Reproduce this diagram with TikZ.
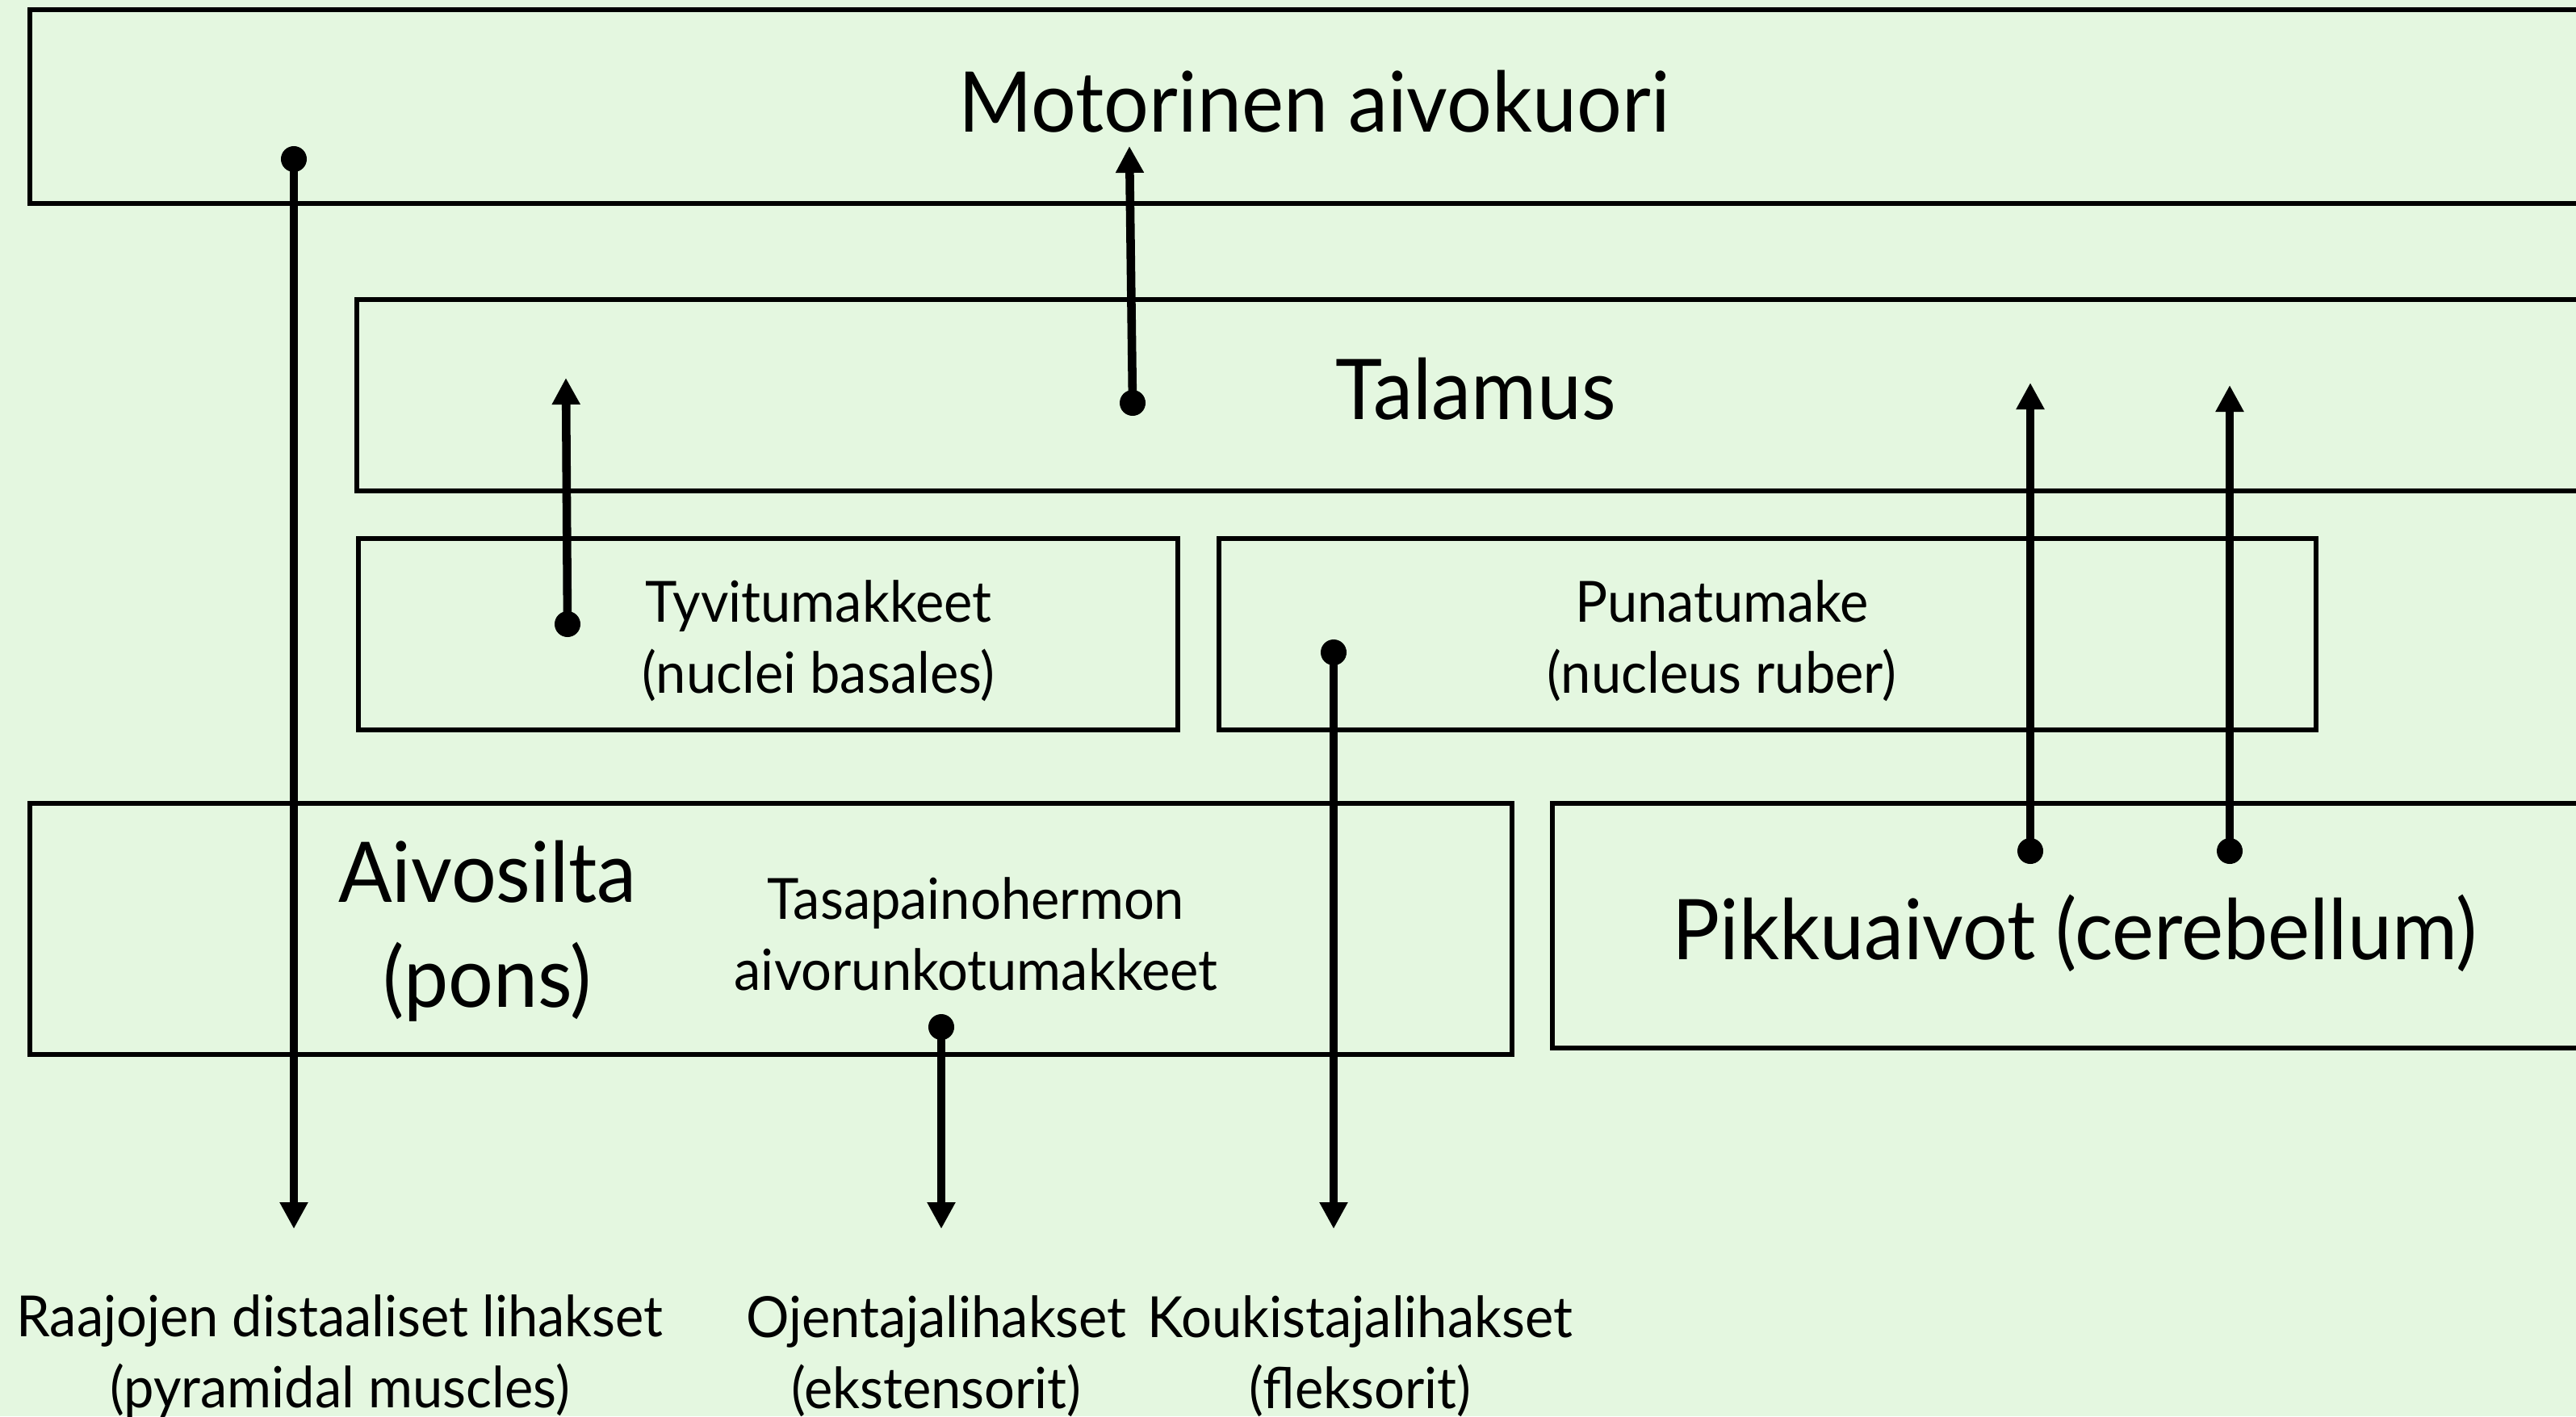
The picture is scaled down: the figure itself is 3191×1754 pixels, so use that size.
\documentclass[tikz,border=0pt]{standalone}
\usepackage{fontspec}
\setmainfont{Lato}[FakeStretch=0.95]
\usetikzlibrary{arrows.meta}
\definecolor{bgmint}{RGB}{228,247,224}
\tikzset{
  region/.style={draw=black, line width=1.45pt, fill=none},
  bigtxt/.style={font=\fontsize{29.5}{37}\selectfont, align=center, inner sep=0pt},
  smalltxt/.style={font=\fontsize{20}{25}\selectfont, align=center, inner sep=0pt},
  dot/.style={circle, fill=black, minimum size=0.32cm, inner sep=0pt},
  conn/.style={line width=3pt, -{Triangle[length=0.33cm, width=0.33cm]}},
}
\begin{document}
\begin{tikzpicture}[x=0.01cm, y=-0.01cm]
  % canvas
  \fill[bgmint] (0,0) rectangle (3191,1754);
  \useasboundingbox (0,0) rectangle (3191,1754);
  \clip (0,0) rectangle (3191,1754);

  % regions
  \draw[region] (37,12) rectangle (3240,252);
  \draw[region] (442,371) rectangle (3240,608);
  \draw[region] (444,667) rectangle (1459,904);
  \draw[region] (1510,667) rectangle (2869,904);
  \draw[region] (37,995) rectangle (1873,1306);
  \draw[region] (1923,995) rectangle (3240,1298);

  % labels
  \node[bigtxt] (motor) at (1628,126) {Motorinen aivokuori};
  \node[bigtxt] (talamus) at (1828,482) {Talamus};
  \node[smalltxt] (tyvi) at (1014,794) {Tyvitumakkeet\\(nuclei basales)};
  \node[smalltxt] (puna) at (2133,794) {Punatumake\\(nucleus ruber)};
  \node[bigtxt] (pons) at (604,1153) {Aivosilta\\(pons)};
  \node[smalltxt] (tasa) at (1209,1157) {Tasapainohermon\\aivorunkotumakkeet};
  \node[bigtxt] (pikku) at (2570,1156) {Pikkuaivot (cerebellum)};
  \node[smalltxt] (raajat) at (421,1680) {Raajojen distaaliset lihakset\\(pyramidal muscles)};
  \node[smalltxt] (ojent) at (1160,1680) {Ojentajalihakset\\(ekstensorit)};
  \node[smalltxt] (kouk) at (1685,1680) {Koukistajalihakset\\(fleksorit)};

  % pathway origins
  \node[dot] (d1) at (364,197) {};
  \node[dot] (d2) at (1403,499) {};
  \node[dot] (d3) at (703,773) {};
  \node[dot] (d4) at (1652,808) {};
  \node[dot] (d5) at (1166,1272) {};
  \node[dot] (d6) at (2515,1054) {};
  \node[dot] (d7) at (2762,1054) {};

  % pathway ends
  \coordinate (t1) at (364,1522);
  \coordinate (t2) at (1399,181);
  \coordinate (t3) at (701,468);
  \coordinate (t4) at (1652,1522);
  \coordinate (t5) at (1166,1522);
  \coordinate (t6) at (2515,474);
  \coordinate (t7) at (2762,477);

  \draw[conn] (d1.center) -- (t1);
  \draw[conn] (d2.center) -- (t2);
  \draw[conn] (d3.center) -- (t3);
  \draw[conn] (d4.center) -- (t4);
  \draw[conn] (d5.center) -- (t5);
  \draw[conn] (d6.center) -- (t6);
  \draw[conn] (d7.center) -- (t7);
\end{tikzpicture}
\end{document}
